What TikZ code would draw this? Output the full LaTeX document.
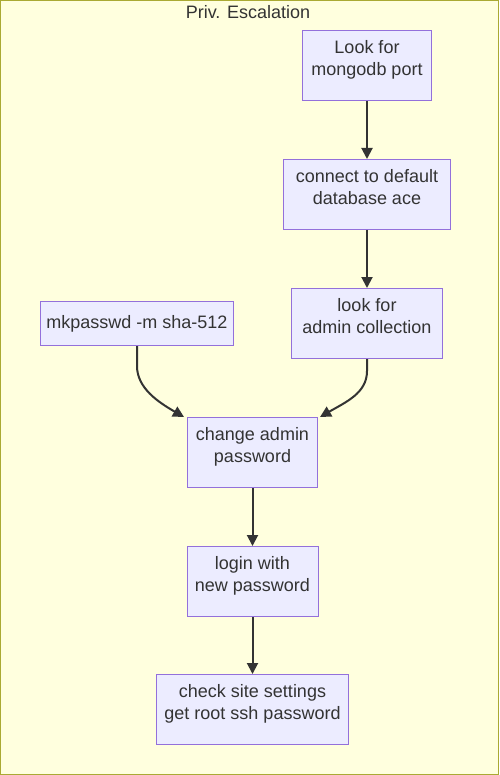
\documentclass[tikz,border=0pt]{standalone}
\usepackage{fontspec}
\setmainfont{Liberation Sans}
\usetikzlibrary{arrows.meta,positioning}
\definecolor{nodefill}{HTML}{ECECFF}
\definecolor{nodeline}{HTML}{9370DB}
\definecolor{grpfill}{HTML}{FFFFDE}
\definecolor{grpline}{HTML}{AAAA33}
\definecolor{ink}{HTML}{333333}

\begin{document}
\begin{tikzpicture}[
    x=1pt, y=1pt,
    node distance=58pt,
    stepbox/.style={rectangle, draw=nodeline, fill=nodefill, line width=1pt, minimum height=70pt, inner sep=0pt, align=center, text=ink, font=\fontsize{18}{22}\selectfont},
    arrow/.style={-{Triangle[length=11pt,width=11pt]}, draw=ink, line width=2pt}
]
    \useasboundingbox (0,0) rectangle (499,-775);
    \draw[draw=grpline, fill=grpfill, line width=1pt] (0.5,-0.5) rectangle (498.5,-774.5);
    \node[text=ink, font=\fontsize{18}{22}\selectfont] (title) at (248,-12) {Priv. Escalation};

    \node[stepbox, minimum width=129pt] (port) at (367,-65.5) {Look for\\mongodb port\\[-6pt]\mbox{}};
    \node[stepbox, minimum width=167pt, below=of port] (ace) {connect to default\\database ace\\[-6pt]\mbox{}};
    \node[stepbox, minimum width=151pt, below=of ace] (admin) {look for\\admin collection\\[-6pt]\mbox{}};
    \node[stepbox, minimum width=193pt, minimum height=44pt, left=57pt of admin] (mkpw) {mkpasswd -m sha-512};
    \node[stepbox, minimum width=130pt, below=of admin, xshift=-114.5pt] (chpw) {change admin\\password\\[-6pt]\mbox{}};
    \node[stepbox, minimum width=131pt, below=of chpw] (login) {login with\\new password\\[-6pt]\mbox{}};
    \node[stepbox, minimum width=192pt, below=57pt of login] (root) {check site settings\\get root ssh password\\[-6pt]\mbox{}};

    \draw[arrow] (port) -- (ace);
    \draw[arrow] (ace) -- (admin);
    \draw[arrow] (mkpw.south) -- ++(0,-20) .. controls +(0,-22) and +(-26,15) .. ([xshift=-3pt]chpw.north west);
    \draw[arrow] (admin.south) -- ++(0,-12) .. controls +(0,-22) and +(26,15) .. ([xshift=2pt]chpw.north east);
    \draw[arrow] (chpw) -- (login);
    \draw[arrow] (login) -- (root);
\end{tikzpicture}
\end{document}
